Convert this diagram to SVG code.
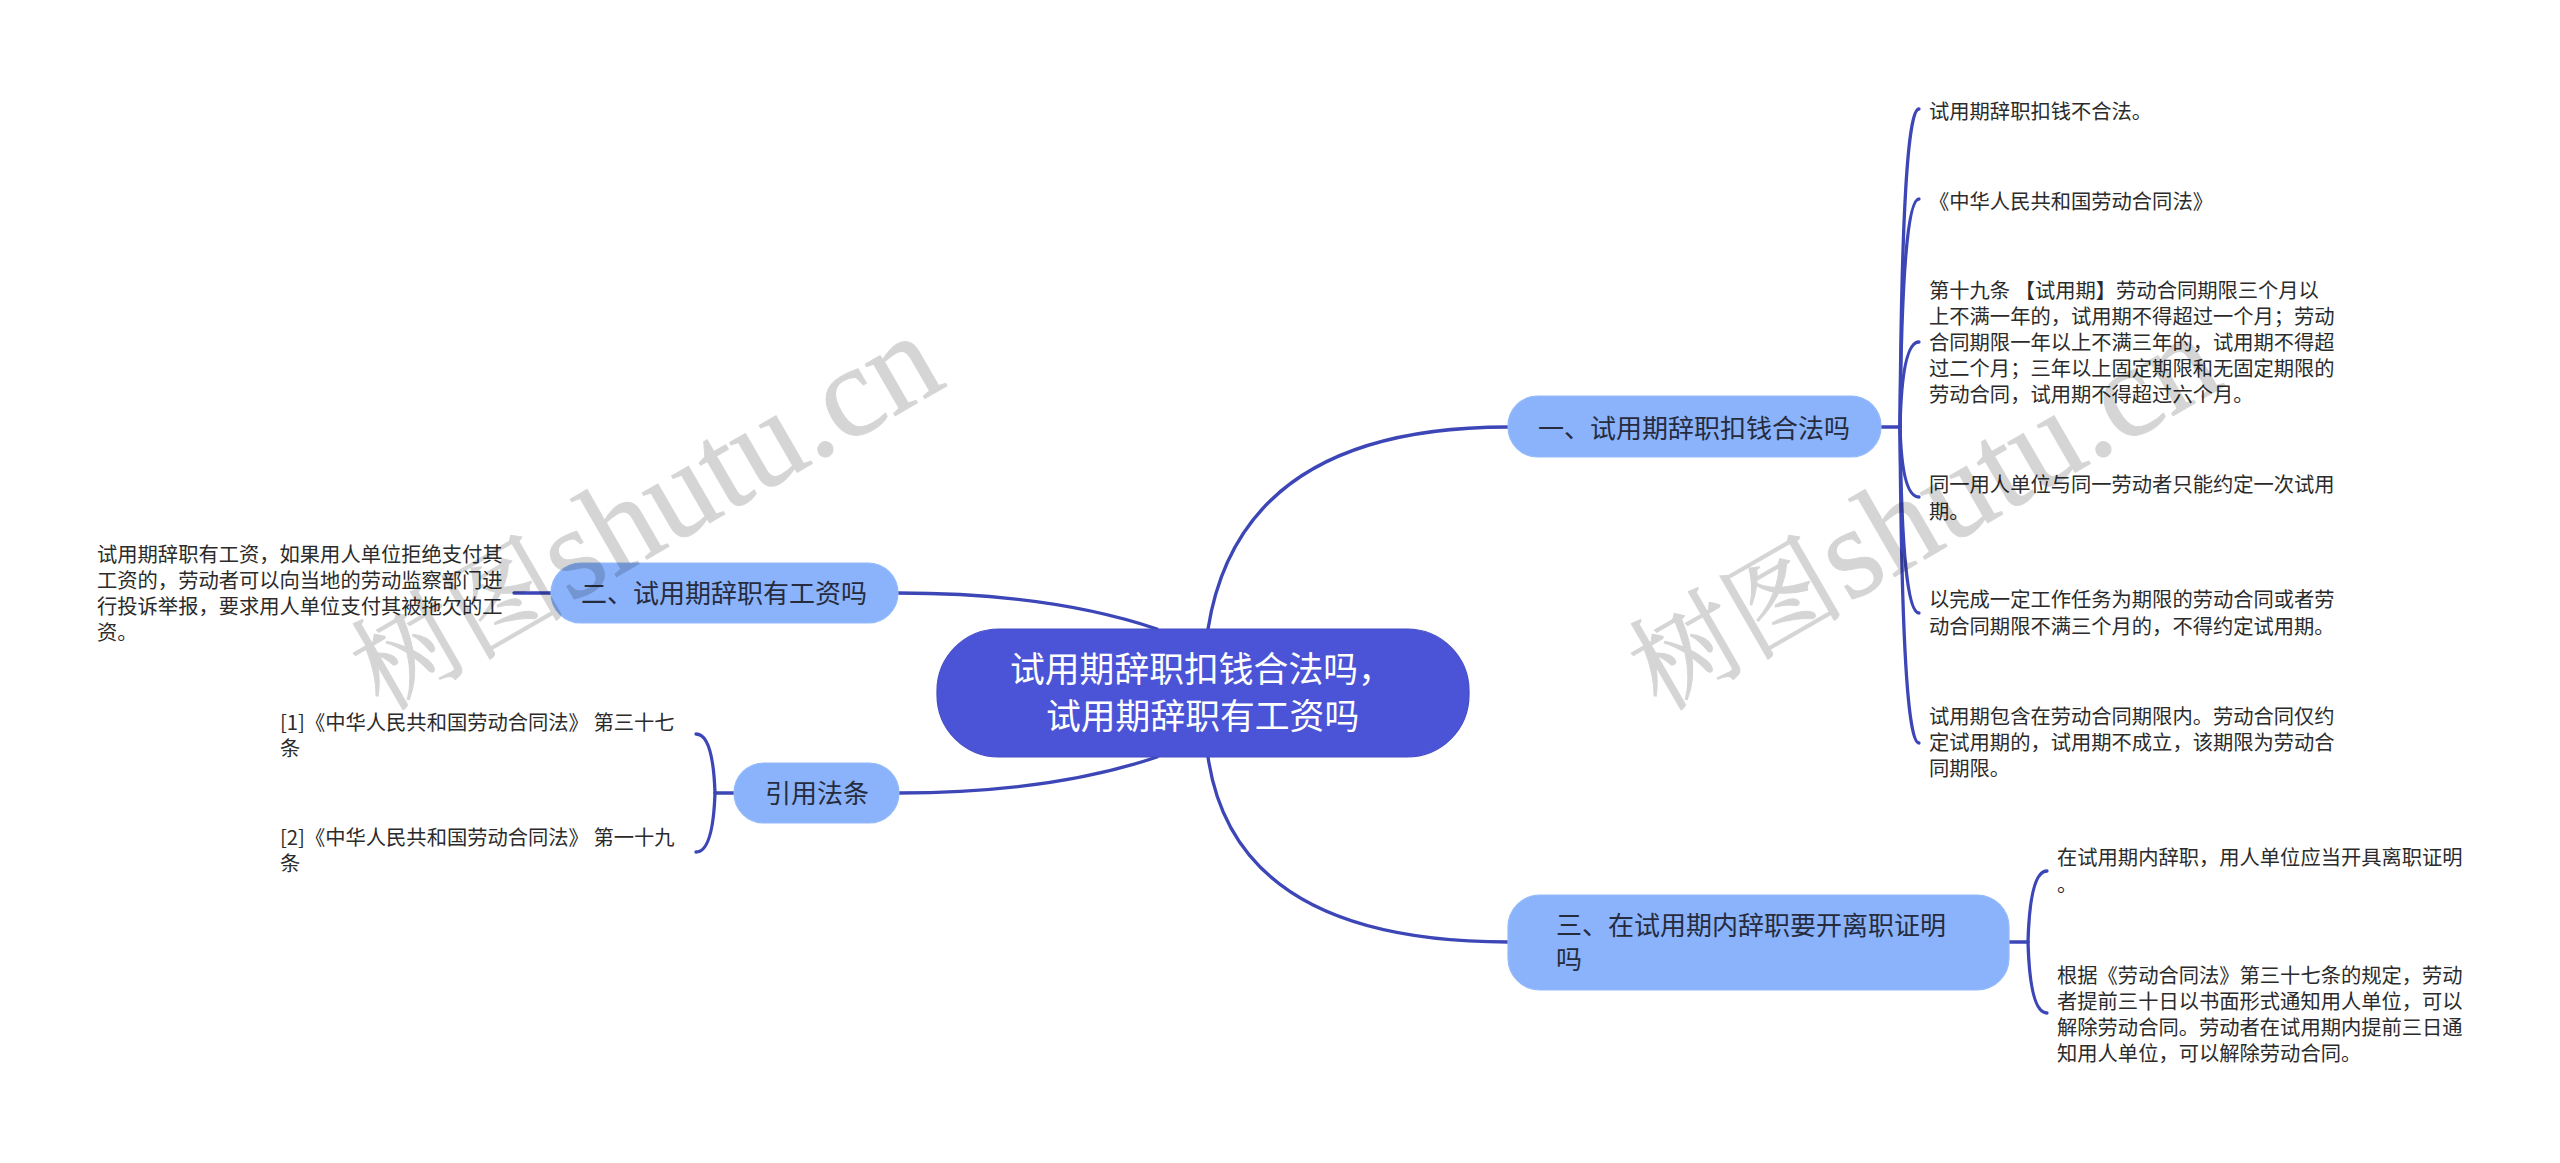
<svg xmlns="http://www.w3.org/2000/svg" width="2560" height="1163" viewBox="0 0 2560 1163">
<style>
text{font-family:"Noto Sans CJK SC","Liberation Sans",sans-serif;}
.root{fill:#4b54d6;stroke:#424cc4;stroke-width:1.2}
.sub{fill:#8ab3fb;stroke:#93baf9;stroke-width:1.2}
.rt{font-size:34.8px;fill:#fff}
.st{font-size:26px;fill:#262b3d}
.lf{font-size:20.3px;fill:#2b2b2b}
.c{fill:none;stroke:#3c46b6;stroke-width:3.3;stroke-linecap:round}
.wm{font-family:"Liberation Serif","Noto Serif CJK SC","Noto Sans CJK SC",serif;font-size:130px;fill:#000;stroke:#000;stroke-width:1;opacity:.16}
.wc{font-size:108px}
</style>
<rect width="2560" height="1163" fill="#fff"/>
<g id="connectors">
<path class="c" d="M1208 629Q1240 427 1508 427"/>
<path class="c" d="M1208 757Q1235 942 1508 942"/>
<path class="c" d="M898 593Q1050 593 1157 629"/>
<path class="c" d="M899 793Q1050 793 1157 757"/>
<path class="c" d="M1881 427H1900"/>
<path class="c" d="M1900 427Q1902 109 1919 109"/>
<path class="c" d="M1900 427Q1902 199 1919 199"/>
<path class="c" d="M1900 427Q1902 342 1919 342"/>
<path class="c" d="M1900 427Q1902 497 1919 497"/>
<path class="c" d="M1900 427Q1902 613 1919 613"/>
<path class="c" d="M1900 427Q1902 743 1919 743"/>
<path class="c" d="M2009 942H2028"/>
<path class="c" d="M2028 942Q2030 871 2047 871"/>
<path class="c" d="M2028 942Q2030 1013 2047 1013"/>
<path class="c" d="M551 593H514"/>
<path class="c" d="M734 793H715"/>
<path class="c" d="M715 793Q713 734 696 734"/>
<path class="c" d="M715 793Q713 852 696 852"/>
</g>
<g id="root"><rect class="root" x="937" y="629" width="532" height="128" rx="62" ry="62"/>
<text class="rt" x="1010" y="682">试用期辞职扣钱合法吗，</text><text class="rt" x="1046" y="729">试用期辞职有工资吗</text></g>
<g id="node1"><rect class="sub" x="1508" y="396" width="373" height="61" rx="30" ry="30"/><text class="st" x="1538" y="438">一、试用期辞职扣钱合法吗</text></g>
<g id="node2"><rect class="sub" x="551" y="563" width="347" height="60" rx="30" ry="30"/><text class="st" x="581" y="603">二、试用期辞职有工资吗</text></g>
<g id="node3"><rect class="sub" x="734" y="763" width="165" height="60" rx="30" ry="30"/><text class="st" x="765" y="803">引用法条</text></g>
<g id="node4"><rect class="sub" x="1508" y="895" width="501" height="95" rx="32" ry="32"/><text class="st" x="1556" y="935">三、在试用期内辞职要开离职证明</text><text class="st" x="1556" y="969">吗</text></g>
<g id="leaf1-1"><text class="lf" x="1929" y="119">试用期辞职扣钱不合法。</text></g>
<g id="leaf1-2"><text class="lf" x="1929" y="209">《中华人民共和国劳动合同法》</text></g>
<g id="leaf1-3"><text class="lf" x="1929" y="297.500">第十九条 【试用期】劳动合同期限三个月以</text><text class="lf" x="1929" y="323.5">上不满一年的，试用期不得超过一个月；劳动</text><text class="lf" x="1929" y="350">合同期限一年以上不满三年的，试用期不得超</text><text class="lf" x="1929" y="376">过二个月；三年以上固定期限和无固定期限的</text><text class="lf" x="1929" y="402">劳动合同，试用期不得超过六个月。</text></g>
<g id="leaf1-4"><text class="lf" x="1929" y="492">同一用人单位与同一劳动者只能约定一次试用</text><text class="lf" x="1929" y="518.500">期。</text></g>
<g id="leaf1-5"><text class="lf" x="1929" y="607">以完成一定工作任务为期限的劳动合同或者劳</text><text class="lf" x="1929" y="633.5">动合同期限不满三个月的，不得约定试用期。</text></g>
<g id="leaf1-6"><text class="lf" x="1929" y="724">试用期包含在劳动合同期限内。劳动合同仅约</text><text class="lf" x="1929" y="750">定试用期的，试用期不成立，该期限为劳动合</text><text class="lf" x="1929" y="776">同期限。</text></g>
<g id="leaf4-1"><text class="lf" x="2057" y="865">在试用期内辞职，用人单位应当开具离职证明</text><text class="lf" x="2057" y="892">。</text></g>
<g id="leaf4-2"><text class="lf" x="2057" y="983">根据《劳动合同法》第三十七条的规定，劳动</text><text class="lf" x="2057" y="1009">者提前三十日以书面形式通知用人单位，可以</text><text class="lf" x="2057" y="1035">解除劳动合同。劳动者在试用期内提前三日通</text><text class="lf" x="2057" y="1061">知用人单位，可以解除劳动合同。</text></g>
<g id="leaf2-1"><text class="lf" x="97" y="562">试用期辞职有工资，如果用人单位拒绝支付其</text><text class="lf" x="97" y="588">工资的，劳动者可以向当地的劳动监察部门进</text><text class="lf" x="97" y="614">行投诉举报，要求用人单位支付其被拖欠的工</text><text class="lf" x="97" y="640">资。</text></g>
<g id="leaf3-1"><text class="lf" x="280" y="730">[1]《中华人民共和国劳动合同法》 第三十七</text><text class="lf" x="280" y="756">条</text></g>
<g id="leaf3-2"><text class="lf" x="280" y="845">[2]《中华人民共和国劳动合同法》 第一十九</text><text class="lf" x="280" y="871">条</text></g>
<text class="wm" transform="translate(382 712) rotate(-30)"><tspan class="wc">树图</tspan><tspan dx="-31"> shutu.cn</tspan></text>
<text class="wm" transform="translate(1660 712) rotate(-30)"><tspan class="wc">树图</tspan><tspan dx="-31"> shutu.cn</tspan></text>
</svg>
